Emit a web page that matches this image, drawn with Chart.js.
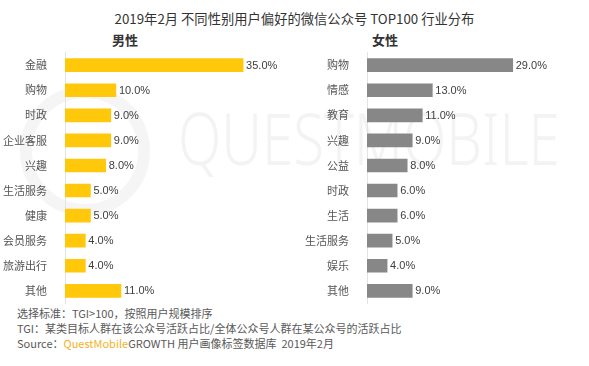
<!DOCTYPE html>
<html><head><meta charset="utf-8">
<script src="https://cdn.jsdelivr.net/npm/chart.js@4/dist/chart.umd.min.js"></script>
<style>
html,body{margin:0;padding:0;background:#fff;width:589px;height:366px;overflow:hidden;font-family:"Noto Sans CJK SC","Noto Sans",sans-serif;}
#wm{position:absolute;left:178px;top:88px;font-family:"Noto Sans",sans-serif;font-size:72px;font-weight:300;color:#f3f3f3;white-space:nowrap;transform-origin:0 0;}
#wmc{position:absolute;left:20px;top:86px;width:106px;height:106px;border:12px solid #f5f5f5;border-radius:50%;}
.t{position:absolute;white-space:nowrap;color:#333;}
#title{left:0;width:589px;top:9px;text-align:center;font-size:13.3px;color:#333;}
#m{left:112px;top:30px;font-size:13px;font-weight:bold;}
#f{left:372px;top:30px;font-size:13px;font-weight:bold;}
.n{left:17px;font-size:11px;color:#595959;}
canvas{position:absolute;}
</style></head><body>
<div id="wmc"></div>
<div id="wm">QUESTMOBILE</div>
<div class="t" id="title">2019年2月 不同性别用户偏好的微信公众号 TOP100 行业分布</div>
<div class="t" id="m">男性</div>
<div class="t" id="f">女性</div>
<div class="t n" style="top:305px">选择标准：TGI&gt;100，按照用户规模排序</div>
<div class="t n" style="top:320px">TGI：某类目标人群在该公众号活跃占比/全体公众号人群在某公众号的活跃占比</div>
<div class="t n" style="top:335px">Source：<span style="color:#F5B21B">QuestMobile</span>GROWTH 用户画像标签数据库&nbsp; 2019年2月</div>
<canvas id="c1" width="300" height="284" style="left:0;top:36px"></canvas>
<canvas id="c2" width="289" height="284" style="left:300px;top:36px"></canvas>
<script>
const maleCategories = ["金融","购物","时政","企业客服","兴趣","生活服务","健康","会员服务","旅游出行","其他"];
const maleValues = [35,10,9,9,8,5,5,4,4,11];
const femaleCategories = ["购物","情感","教育","兴趣","公益","时政","生活","生活服务","娱乐","其他"];
const femaleValues = [29,13,11,9,8,6,6,5,4,9];

const wm = document.getElementById('wm');
wm.style.transform = 'scaleX(' + (382 / wm.offsetWidth) + ')';

const labelPlugin = {
  id:'lbl',
  afterDatasetsDraw(chart){
    const ctx = chart.ctx;
    const meta = chart.getDatasetMeta(0);
    ctx.save();
    ctx.font = '11px "Liberation Sans", Arial, sans-serif';
    ctx.fillStyle = '#404040';
    ctx.textBaseline = 'middle';
    ctx.textAlign = 'left';
    meta.data.forEach((bar,i)=>{
      const v = chart.data.datasets[0].data[i];
      ctx.fillText(v.toFixed(1)+'%', bar.x+3, bar.y+0.5);
    });
    ctx.restore();
  }
};

function make(id, cats, vals, color, axisW, max, padR){
  return new Chart(document.getElementById(id), {
    type:'bar',
    data:{labels:cats, datasets:[{data:vals, backgroundColor:color, barThickness:13}]},
    options:{
      indexAxis:'y', responsive:false, animation:false, devicePixelRatio:1,
      layout:{padding:{top:0,bottom:0,left:0,right:padR}},
      plugins:{legend:{display:false}, tooltip:{enabled:false}},
      scales:{
        x:{min:0,max:max,display:false},
        y:{
          grid:{display:false},
          border:{display:true,color:'#e3e3e3',width:1},
          ticks:{color:'#555',font:{size:11,family:'"Noto Sans CJK SC", sans-serif'},padding:10},
          afterFit(s){ s.width = axisW; }
        }
      }
    },
    plugins:[labelPlugin]
  });
}
make('c1', maleCategories, maleValues, '#FFC80A', 65, 45, 6);
make('c2', femaleCategories, femaleValues, '#878787', 67, 40, 21);
</script>
</body></html>
